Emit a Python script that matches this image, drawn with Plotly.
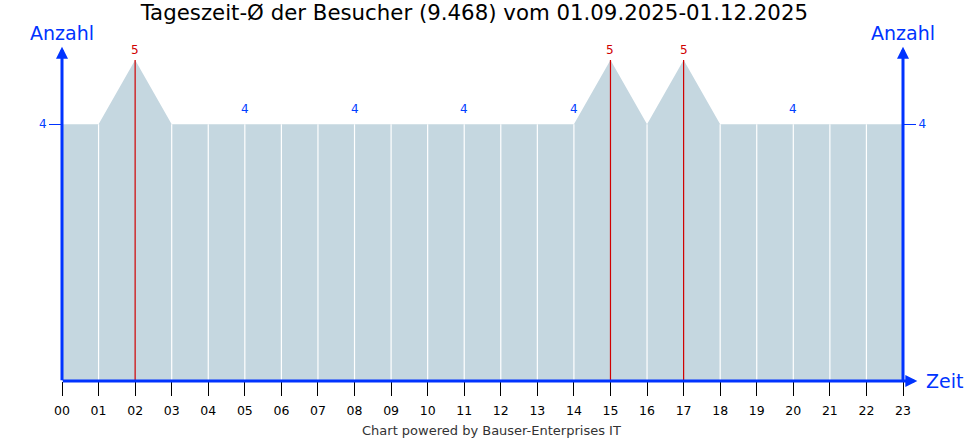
import plotly.graph_objects as go

# Tageszeit-Durchschnitt der Besucher
hours = ['00', '01', '02', '03', '04', '05', '06', '07', '08', '09', '10', '11',
         '12', '13', '14', '15', '16', '17', '18', '19', '20', '21', '22', '23']
visitors = [4, 4, 5, 4, 4, 4, 4, 4, 4, 4, 4, 4,
            4, 4, 4, 5, 4, 5, 4, 4, 4, 4, 4, 4]
value_labels = ['', '', '5', '', '', '4', '', '', '4', '', '', '4',
                '', '', '4', '5', '', '5', '', '', '4', '', '', '']
y_ticks = [4]

title = 'Tageszeit-Ø der Besucher (9.468) vom 01.09.2025-01.12.2025'
footer = 'Chart powered by Bauser-Enterprises IT'

BLUE = '#0033ff'
LABEL_BLUE = '#0040ff'
RED = '#d00000'
FILL = '#c5d7e0'
FONT = 'DejaVu Sans'

x = list(range(len(hours)))
peak = max(visitors)

fig = go.Figure()

# filled area
fig.add_trace(go.Scatter(
    x=x, y=visitors, mode='lines', fill='tozeroy',
    fillcolor=FILL, line=dict(width=0, color=FILL),
    hoverinfo='skip', showlegend=False
))

# vertical drop lines: white for normal hours, red for maximum
white_x, white_y, red_x, red_y = [], [], [], []
for xi, v in zip(x, visitors):
    if v == peak:
        red_x += [xi, xi, None]
        red_y += [0, v, None]
    else:
        white_x += [xi, xi, None]
        white_y += [0, v, None]

fig.add_trace(go.Scatter(x=white_x, y=white_y, mode='lines',
                         line=dict(color='white', width=1.2),
                         hoverinfo='skip', showlegend=False))
fig.add_trace(go.Scatter(x=red_x, y=red_y, mode='lines',
                         line=dict(color=RED, width=1.2),
                         hoverinfo='skip', showlegend=False))

# value labels above the points
for xi, v, lbl in zip(x, visitors, value_labels):
    if lbl:
        fig.add_annotation(x=xi, y=v, text=lbl, showarrow=False,
                           yanchor='middle', yshift=10 if v == peak else 15,
                           font=dict(family=FONT, size=12,
                                     color=RED if v == peak else LABEL_BLUE))

# dummy trace so the right axis shows
fig.add_trace(go.Scatter(x=[x[0]], y=[visitors[0]], yaxis='y2', mode='markers',
                         marker=dict(opacity=0), hoverinfo='skip', showlegend=False))

# axes with arrows
arrow = dict(text='', showarrow=True, arrowhead=2, arrowsize=0.8,
             arrowwidth=3, arrowcolor=BLUE, standoff=0, startstandoff=0)
fig.add_annotation(x=0, y=1.041, xref='x', yref='paper',
                   ax=0, ay=335, **arrow)
fig.add_annotation(x=len(hours) - 1, y=1.041, xref='x', yref='paper',
                   ax=0, ay=335, **arrow)
fig.add_annotation(x=1.017, y=0, xref='paper', yref='paper',
                   ax=-856, ay=0, **arrow)

for xa in [0, len(hours) - 1]:
    fig.add_annotation(x=xa, y=1.084, xref='x', yref='paper', text='Anzahl',
                       showarrow=False, yanchor='middle',
                       font=dict(family=FONT, size=19, color=BLUE))
fig.add_annotation(x=1.025, y=0, xref='paper', yref='paper', text='Zeit',
                   showarrow=False, xanchor='left', yanchor='middle',
                   font=dict(family=FONT, size=19, color=BLUE))
fig.add_annotation(x=0.511, y=-0.153, xref='paper', yref='paper', text=footer,
                   showarrow=False, yanchor='middle',
                   font=dict(family=FONT, size=13, color='#333333'))

fig.update_layout(
    width=970, height=440,
    margin=dict(l=62, r=67, t=60, b=59),
    paper_bgcolor='white', plot_bgcolor='white',
    font=dict(family=FONT),
    title=dict(text=title, x=0.489, xanchor='center', y=0.972, yanchor='middle',
               font=dict(family=FONT, size=21.3, color='black')),
    xaxis=dict(range=[0, len(hours) - 1], tickvals=x, ticktext=hours,
               showgrid=False, zeroline=False, showline=False,
               ticks='outside', ticklen=14, tickwidth=1, tickcolor='black',
               ticklabelstandoff=4,
               tickfont=dict(family=FONT, size=12.5, color='black')),
    yaxis=dict(range=[0, 5], tickvals=y_ticks, showgrid=False, zeroline=False,
               showline=False, ticks='outside', ticklen=12, tickcolor=BLUE,
               tickfont=dict(family=FONT, size=12, color=LABEL_BLUE)),
    yaxis2=dict(range=[0, 5], tickvals=y_ticks, overlaying='y', side='right',
                showgrid=False, zeroline=False, showline=False,
                ticks='outside', ticklen=12, tickcolor=BLUE,
                tickfont=dict(family=FONT, size=12, color=LABEL_BLUE)),
    hovermode=False
)

# page without the default body margin, no modebar
fig.write_html('out.html', config={'displayModeBar': False},
               post_script="document.body.style.margin='0';")
